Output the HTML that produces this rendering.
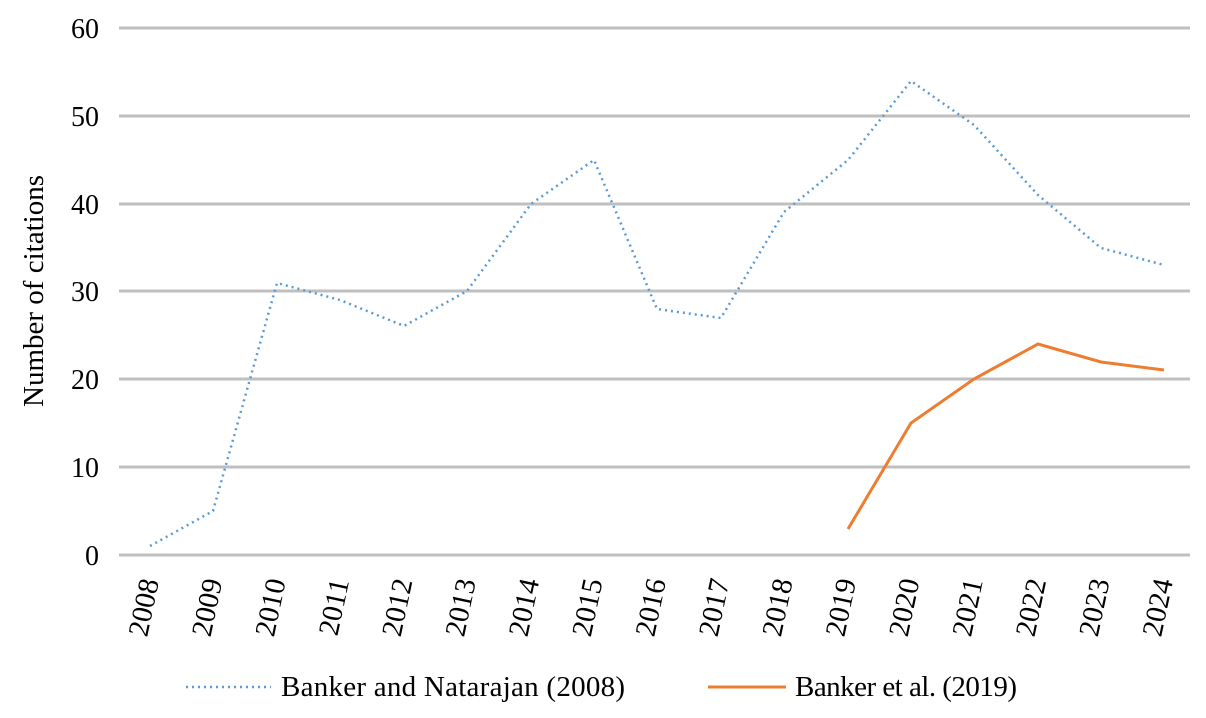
<!DOCTYPE html>
<html><head><style>body{margin:0;background:#fff}</style></head><body>
<svg width="1206" height="713" xmlns="http://www.w3.org/2000/svg" font-family="Liberation Serif, serif">
<g stroke="#bfbfbf" stroke-width="3">
<line x1="119" x2="1190" y1="28" y2="28"/><line x1="119" x2="1190" y1="116" y2="116"/>
<line x1="119" x2="1190" y1="204" y2="204"/><line x1="119" x2="1190" y1="291" y2="291"/>
<line x1="119" x2="1190" y1="379" y2="379"/><line x1="119" x2="1190" y1="467" y2="467"/>
<line x1="119" x2="1190" y1="555" y2="555"/></g>
<g font-size="28" text-anchor="end">
<text x="99" y="38">60</text><text x="99" y="126">50</text><text x="99" y="214">40</text>
<text x="99" y="301">30</text><text x="99" y="389">20</text><text x="99" y="477">10</text><text x="99" y="565">0</text></g>
<text transform="translate(43,291) rotate(-90)" font-size="29" text-anchor="middle">Number of citations</text>
<g font-size="29" text-anchor="end" id="xl"></g>
<polyline fill="none" stroke="#5b9bd5" stroke-width="2.5" stroke-dasharray="2,4" points="150,546 213,511 277,283 340,300 404,326 467,291 531,204 594,160 657,309 721,318 784,212 848,160 911,81 974,125 1038,195 1101,248 1164,265"/>
<polyline fill="none" stroke="#ed7d31" stroke-width="3" points="848,529 911,423 974,379 1038,344 1101,362 1164,370"/>
<line x1="186" x2="271" y1="687" y2="687" stroke="#5b9bd5" stroke-width="2.5" stroke-dasharray="2,4"/>
<text x="281" y="696" font-size="29" textLength="344">Banker and Natarajan (2008)</text>
<line x1="708" x2="786" y1="687" y2="687" stroke="#ed7d31" stroke-width="3"/>
<text x="795" y="696" font-size="29" textLength="222">Banker et al. (2019)</text>
<script>
var g=document.getElementById('xl');
for(var i=0;i<17;i++){var x=150+i*63.375;var t=document.createElementNS('http://www.w3.org/2000/svg','text');
t.setAttribute('transform','translate('+(x+9)+',581) rotate(-78)');t.textContent=2008+i;g.appendChild(t);}
</script>
</svg></body></html>
